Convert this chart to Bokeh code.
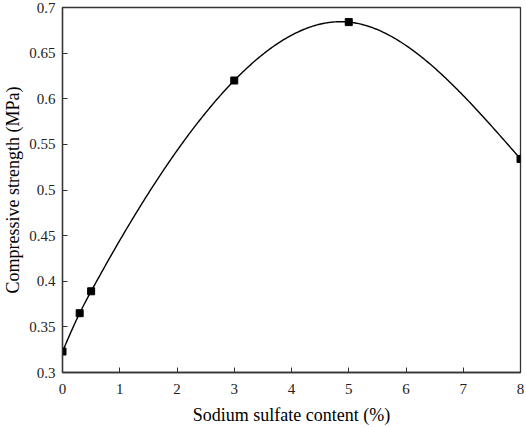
import numpy as np
from bokeh.plotting import figure
from bokeh.models import FixedTicker
from bokeh.embed import file_html
from bokeh.resources import INLINE

# data
content = [0, 0.3, 0.5, 3, 5, 8]
strength = [0.323, 0.365, 0.389, 0.620, 0.684, 0.534]
x_ticks = [0, 1, 2, 3, 4, 5, 6, 7, 8]
y_ticks = [0.3, 0.35, 0.4, 0.45, 0.5, 0.55, 0.6, 0.65, 0.7]


def natural_spline(xs, ys, n=400):
    xs = np.asarray(xs, float)
    ys = np.asarray(ys, float)
    k = len(xs)
    h = np.diff(xs)
    A = np.zeros((k, k))
    b = np.zeros(k)
    A[0, 0] = A[-1, -1] = 1
    for i in range(1, k - 1):
        A[i, i - 1] = h[i - 1]
        A[i, i] = 2 * (h[i - 1] + h[i])
        A[i, i + 1] = h[i]
        b[i] = 3 * ((ys[i + 1] - ys[i]) / h[i] - (ys[i] - ys[i - 1]) / h[i - 1])
    c = np.linalg.solve(A, b)
    xx = np.linspace(xs[0], xs[-1], n)
    yy = np.empty_like(xx)
    for j, x in enumerate(xx):
        i = min(np.searchsorted(xs, x, side="right") - 1, k - 2)
        dx = x - xs[i]
        bi = (ys[i + 1] - ys[i]) / h[i] - h[i] * (2 * c[i] + c[i + 1]) / 3
        di = (c[i + 1] - c[i]) / (3 * h[i])
        yy[j] = ys[i] + bi * dx + c[i] * dx ** 2 + di * dx ** 3
    return xx, yy


sx, sy = natural_spline(content, strength)

p = figure(width=526, height=427, output_backend="svg", toolbar_location=None,
           x_range=(0, 8), y_range=(0.3, 0.7),
           min_border_left=50, min_border_right=6, min_border_top=7,
           min_border_bottom=54)
p.grid.visible = False
p.background_fill_color = "white"
p.border_fill_color = "white"
p.outline_line_color = "#333333"
p.outline_line_width = 1.3

p.line(sx, sy, line_color="black", line_width=1.4)
p.scatter(content, strength, marker="square", size=7, fill_color="black",
          line_color="black")

for ax in (p.xaxis[0], p.yaxis[0]):
    ax.axis_line_color = "#333333"
    ax.axis_line_width = 1.3
    ax.major_tick_in = 5
    ax.major_tick_out = 0
    ax.major_tick_line_color = "#333333"
    ax.minor_tick_line_color = None
    ax.major_label_text_font = "Liberation Serif"
    ax.major_label_text_font_size = "15px"
    ax.major_label_text_color = "#222222"
    ax.axis_label_text_font = "Liberation Serif"
    ax.axis_label_text_font_size = "18px"
    ax.axis_label_text_font_style = "normal"
    ax.axis_label_text_color = "black"

p.xaxis.ticker = FixedTicker(ticks=x_ticks)
p.yaxis.ticker = FixedTicker(ticks=y_ticks)
p.xaxis.axis_label = "Sodium sulfate content (%)"
p.yaxis.axis_label = "Compressive strength (MPa)"
p.xaxis.major_label_standoff = 11
p.yaxis.major_label_standoff = 7
p.xaxis.axis_label_standoff = 8
p.yaxis.axis_label_standoff = 3

open("out.html", "w").write(file_html(p, INLINE))
